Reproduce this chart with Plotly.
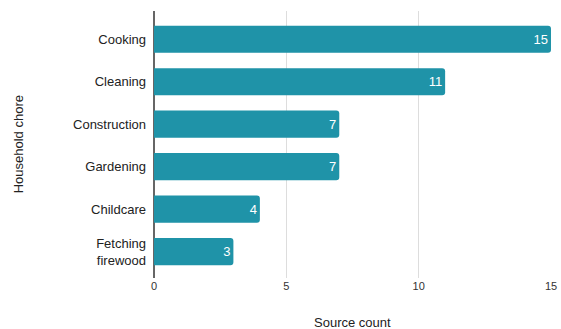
import plotly.graph_objects as go

chores = ["Cooking", "Cleaning", "Construction", "Gardening", "Childcare", "Fetching<br>firewood"]
counts = [15, 11, 7, 7, 4, 3]
x_ticks = [0, 5, 10, 15]
x_title = "Source count"
y_title = "Household chore"

FONT = "Liberation Sans, Arial, Helvetica, sans-serif"

fig = go.Figure(go.Bar(
    y=chores, x=counts, orientation="h",
    marker=dict(color="#1f93a8", line=dict(width=0)),
    text=[str(c) for c in counts], textposition="inside", insidetextanchor="end",
    textfont=dict(color="white", size=13, family=FONT),
    hoverinfo="skip",
))
fig.update_layout(
    width=561, height=329,
    margin=dict(l=153.5, r=9.5, t=11, b=51, autoexpand=False),
    paper_bgcolor="white", plot_bgcolor="white",
    bargap=0.36, barcornerradius=3,
    font=dict(family=FONT, size=13, color="#222"),
    showlegend=False,
    annotations=[
        dict(text=x_title, xref="paper", yref="paper", x=0.5, y=-0.1667,
             showarrow=False, xanchor="center", yanchor="middle",
             font=dict(size=13, color="#222", family=FONT)),
        dict(text=y_title, xref="paper", yref="paper", x=-0.3405, y=0.5,
             showarrow=False, xanchor="center", yanchor="middle", textangle=-90,
             font=dict(size=13, color="#222", family=FONT)),
    ],
)
fig.update_xaxes(
    range=[0, 15], tickvals=x_ticks, showgrid=True, gridcolor="#dddddd", gridwidth=1,
    zeroline=True, zerolinecolor="#666666", zerolinewidth=1.5,
    showline=False, ticks="", tickfont=dict(size=11, color="#333"),
    automargin=False,
)
fig.update_yaxes(
    categoryorder="array", categoryarray=chores,
    range=[5.62, -0.665], showgrid=False, ticks="", ticklabelstandoff=7,
    tickfont=dict(size=13, color="#222"), automargin=False,
)
fig.write_html(
    "out.html",
    config={"displayModeBar": False, "staticPlot": True},
    post_script="document.body.style.margin='0';document.body.style.overflow='hidden';",
)
